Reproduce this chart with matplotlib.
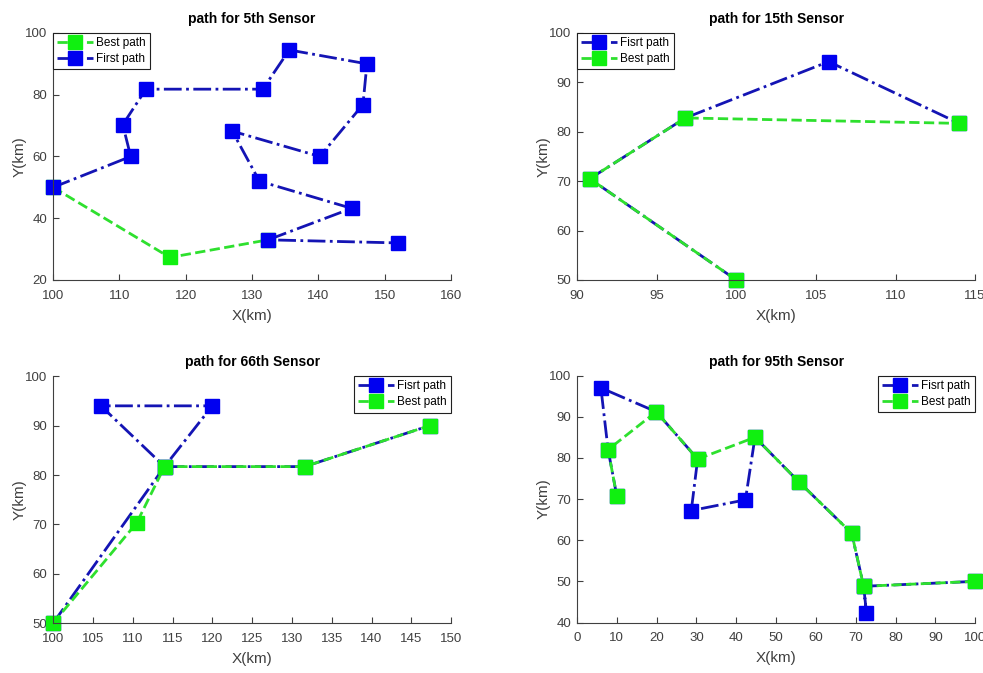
import matplotlib
matplotlib.use('Agg')
import matplotlib.pyplot as plt

plt.rcParams['font.family'] = ['Liberation Sans', 'DejaVu Sans']

# sensor 5
s5_first_x = [100, 111.7, 110.5, 114, 131.6, 135.6, 147.3, 146.7, 140.2, 127, 131.1, 145, 132.4, 152]
s5_first_y = [50, 60, 70.3, 81.8, 81.8, 94.5, 90, 76.8, 60, 68.2, 52, 43.2, 33, 32]
s5_best_x = [100, 117.6, 132.4]
s5_best_y = [50, 27.3, 33]

# sensor 15
s15_first_x = [100, 90.8, 96.8, 105.8, 114]
s15_first_y = [50, 70.5, 82.8, 94.2, 81.7]
s15_best_x = [100, 90.8, 96.8, 114]
s15_best_y = [50, 70.5, 82.8, 81.7]

# sensor 66
s66_first_x = [100, 114, 106, 120, 114, 131.6, 147.3]
s66_first_y = [50, 81.7, 94, 94, 81.7, 81.7, 90]
s66_best_x = [100, 110.5, 114, 131.6, 147.3]
s66_best_y = [50, 70.3, 81.7, 81.7, 90]

# sensor 95
s95_first_x = [10, 7.8, 6, 19.9, 30.3, 28.7, 42.3, 44.7, 55.7, 69, 72, 72.7, 72, 100]
s95_first_y = [70.7, 82, 97, 91.2, 79.7, 67.2, 69.8, 85, 74.2, 61.7, 48.8, 42.3, 48.8, 50]
s95_best_x = [100, 72, 69, 55.7, 44.7, 30.3, 19.9, 7.8, 10]
s95_best_y = [50, 48.8, 61.7, 74.2, 85, 79.7, 91.2, 82, 70.7]

blue_line = '#1414b4'
blue_mk = '#0000f0'
green_line = '#2ee02e'
green_mk = '#10f010'
tick_col = '#404040'

fig = plt.figure(figsize=(9.83, 6.73), dpi=100)


def draw_first(ax, x, y, label='First path'):
    ax.plot(x, y, '-.', color=blue_line, lw=2, marker='s', ms=9.5,
            mfc=blue_mk, mec=blue_mk, label=label, clip_on=False)


def draw_best(ax, x, y):
    ax.plot(x, y, '--', color=green_line, lw=2, marker='s', ms=9.5,
            mfc=green_mk, mec=green_mk, label='Best path', clip_on=False)


def style(ax, title, xlim, ylim, xticks, yticks, loc):
    ax.set_xlim(*xlim)
    ax.set_ylim(*ylim)
    ax.set_xticks(xticks)
    ax.set_yticks(yticks)
    ax.spines['top'].set_visible(False)
    ax.spines['right'].set_visible(False)
    for s in ('left', 'bottom'):
        ax.spines[s].set_color(tick_col)
        ax.spines[s].set_linewidth(0.8)
    ax.tick_params(direction='in', length=4, colors=tick_col, labelsize=9.5)
    ax.tick_params(axis='x', pad=7)
    ax.tick_params(axis='y', pad=4)
    ax.set_title(title, fontsize=10, fontweight='bold', pad=7)
    ax.set_xlabel('X(km)', fontsize=11, color=tick_col, labelpad=5)
    ax.set_ylabel('Y(km)', fontsize=11, color=tick_col, labelpad=-1)
    leg = ax.legend(loc=loc, fontsize=8.5, fancybox=False, framealpha=1,
                    edgecolor='#202020', borderaxespad=0, handlelength=3,
                    handletextpad=0.3, borderpad=0.35, labelspacing=0.35)
    leg.get_frame().set_linewidth(0.8)


w, h = 0.405, 0.367
ax1 = fig.add_axes([0.054, 0.584, w, h])
draw_best(ax1, s5_best_x, s5_best_y)
draw_first(ax1, s5_first_x, s5_first_y)
style(ax1, 'path for 5th Sensor', (100, 160), (20, 100),
      range(100, 161, 10), range(20, 101, 20), 'upper left')

ax2 = fig.add_axes([0.587, 0.584, w, h])
draw_first(ax2, s15_first_x, s15_first_y, 'Fisrt path')
draw_best(ax2, s15_best_x, s15_best_y)
style(ax2, 'path for 15th Sensor', (90, 115), (50, 100),
      range(90, 116, 5), range(50, 101, 10), 'upper left')

ax3 = fig.add_axes([0.054, 0.074, w, h])
draw_first(ax3, s66_first_x, s66_first_y, 'Fisrt path')
draw_best(ax3, s66_best_x, s66_best_y)
style(ax3, 'path for 66th Sensor', (100, 150), (50, 100),
      range(100, 151, 5), range(50, 101, 10), 'upper right')

ax4 = fig.add_axes([0.587, 0.075, w, h])
draw_first(ax4, s95_first_x, s95_first_y, 'Fisrt path')
draw_best(ax4, s95_best_x, s95_best_y)
style(ax4, 'path for 95th Sensor', (0, 100), (40, 100),
      range(0, 101, 10), range(40, 101, 10), 'upper right')

fig.savefig('out.png', dpi=100, facecolor='white')
